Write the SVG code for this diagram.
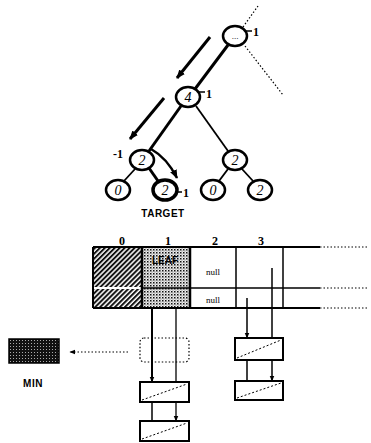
<svg xmlns="http://www.w3.org/2000/svg" width="371" height="443" viewBox="0 0 371 443">
<style>
.nd{fill:#fff;stroke:#000;stroke-width:2.5}
.ndt{fill:#fff;stroke:#000;stroke-width:3.5}
.nl{font-family:"Liberation Serif",serif;font-style:italic;font-size:14px;text-anchor:middle}
.bl{font-family:"Liberation Serif",serif;font-weight:bold;font-size:12px}
.e{stroke:#000;fill:none}
.lbl{font-family:"Liberation Sans",sans-serif;font-weight:bold;font-size:10px;text-anchor:middle;letter-spacing:0.5px}
.null{font-family:"Liberation Serif",serif;font-size:9px;text-anchor:middle}
.box{fill:#fff;stroke:#000;stroke-width:2}
.dg{stroke:#000;stroke-width:1;stroke-dasharray:2 2}
.dot{stroke:#000;stroke-width:1.2;stroke-dasharray:1.5 2;fill:none}
</style>
<defs>
<marker id="ah" viewBox="0 0 10 10" refX="9" refY="5" markerWidth="9" markerHeight="9" orient="auto" markerUnits="userSpaceOnUse"><path d="M0,1 L10,5 L0,9 Z" fill="#000"/></marker>
<marker id="ahs" viewBox="0 0 10 10" refX="9" refY="5" markerWidth="6" markerHeight="6" orient="auto" markerUnits="userSpaceOnUse"><path d="M0,1 L10,5 L0,9 Z" fill="#000"/></marker>
<pattern id="hatch" patternUnits="userSpaceOnUse" width="3.5" height="3.5" patternTransform="rotate(45)"><rect width="3.5" height="3.5" fill="#fff"/><line x1="1" y1="0" x2="1" y2="3.5" stroke="#111" stroke-width="2"/></pattern>
<pattern id="stip" patternUnits="userSpaceOnUse" width="3" height="3"><rect width="3" height="3" fill="#eee"/><rect x="0" y="0" width="1.5" height="1.5" fill="#111"/><rect x="1.5" y="1.5" width="1" height="1" fill="#666"/></pattern>
<pattern id="dstip" patternUnits="userSpaceOnUse" width="3" height="3"><rect width="3" height="3" fill="#111"/><rect x="1" y="1" width="1" height="1" fill="#aaa"/></pattern>
</defs>

<g id="connectors">
<line class="e" x1="228" y1="45" x2="195" y2="89" stroke-width="3"/>
<line class="e" x1="181" y1="106" x2="149" y2="151" stroke-width="3"/>
<line class="e" x1="196" y1="106" x2="228" y2="151" stroke-width="1.8"/>
<line class="e" x1="135" y1="169" x2="124" y2="181" stroke-width="1.8"/>
<line class="e" x1="149" y1="168" x2="158" y2="181" stroke-width="3"/>
<line class="e" x1="228" y1="169" x2="219" y2="181" stroke-width="1.8"/>
<line class="e" x1="242" y1="169" x2="253" y2="181" stroke-width="1.8"/>
<line class="dot" x1="243" y1="27" x2="258" y2="6"/>
<line class="dot" x1="245" y1="46" x2="283" y2="95"/>
<line class="e" x1="210" y1="37" x2="177" y2="78" stroke-width="3" marker-end="url(#ah)"/>
<line class="e" x1="164" y1="98" x2="130" y2="139" stroke-width="3" marker-end="url(#ah)"/>
<path class="e" d="M151,149 Q167,158 177,178" stroke-width="2.5" marker-end="url(#ah)"/>
<line class="e" x1="152" y1="300" x2="152" y2="382" stroke-width="2" marker-end="url(#ahs)"/>
<line class="e" x1="176" y1="280" x2="176" y2="421" stroke-width="1.3" marker-end="url(#ahs)"/>
<line class="e" x1="152" y1="402" x2="152" y2="433" stroke-width="1.5" marker-end="url(#ahs)"/>
<line class="e" x1="247" y1="298" x2="247" y2="338" stroke-width="1.5" marker-end="url(#ahs)"/>
<line class="e" x1="272" y1="268" x2="272" y2="381" stroke-width="1.5" marker-end="url(#ahs)"/>
<line class="e" x1="247" y1="360" x2="247" y2="394" stroke-width="1.5" marker-end="url(#ahs)"/>
<line class="dot" x1="128" y1="352" x2="70" y2="352" marker-end="url(#ahs)"/>
</g>

<g id="node-root"><ellipse class="nd" cx="235" cy="36" rx="12" ry="10"/><text x="235" y="39" font-family="Liberation Serif,serif" font-size="9" text-anchor="middle">...</text><line x1="246" y1="31" x2="252" y2="31" stroke="#000" stroke-width="1.5"/><text class="bl" x="253" y="36">1</text></g>
<g id="node-4"><ellipse class="nd" cx="188" cy="97" rx="12" ry="10"/><text class="nl" x="188" y="102">4</text><line x1="199" y1="92" x2="205" y2="92" stroke="#000" stroke-width="1.5"/><text class="bl" x="206" y="98">1</text></g>
<g id="node-2l"><ellipse class="nd" cx="142" cy="160" rx="12" ry="10"/><text class="nl" x="142" y="165">2</text><text class="bl" x="123" y="158" text-anchor="end">-1</text></g>
<g id="node-2r"><ellipse class="nd" cx="235" cy="160" rx="12" ry="10"/><text class="nl" x="235" y="165">2</text></g>
<g id="leaf-0a"><ellipse class="nd" cx="118" cy="190" rx="12" ry="10"/><text class="nl" x="118" y="195">0</text></g>
<g id="leaf-2a"><ellipse class="ndt" cx="165" cy="190" rx="12" ry="10"/><text class="nl" x="165" y="195">2</text><line x1="177" y1="192" x2="182" y2="192" stroke="#000" stroke-width="1.5"/><text class="bl" x="183" y="197">1</text></g>
<g id="leaf-0b"><ellipse class="nd" cx="213" cy="190" rx="12" ry="10"/><text class="nl" x="213" y="195">0</text></g>
<g id="leaf-2b"><ellipse class="nd" cx="260" cy="190" rx="12" ry="10"/><text class="nl" x="260" y="195">2</text></g>
<text class="lbl" x="163" y="217">TARGET</text>

<g id="table">
<rect x="93" y="247" width="49" height="61" fill="url(#hatch)"/>
<line x1="93" y1="288" x2="142" y2="288" stroke="#fff" stroke-width="2"/>
<rect x="142" y="247" width="48" height="61" fill="url(#stip)"/>
<text x="165" y="264" font-family="Liberation Sans,sans-serif" font-weight="bold" font-size="10" text-anchor="middle">LEAF</text>
<line x1="93" y1="247" x2="320" y2="247" stroke="#000" stroke-width="2"/>
<line x1="142" y1="288" x2="320" y2="288" stroke="#000" stroke-width="1.5"/>
<line x1="93" y1="308" x2="320" y2="308" stroke="#000" stroke-width="2"/>
<line class="dot" x1="320" y1="247" x2="368" y2="247"/>
<line class="dot" x1="320" y1="288" x2="368" y2="288"/>
<line class="dot" x1="320" y1="308" x2="368" y2="308"/>
<line x1="93" y1="247" x2="93" y2="308" stroke="#000" stroke-width="2"/>
<line x1="142" y1="247" x2="142" y2="308" stroke="#000" stroke-width="2.5"/>
<line x1="190" y1="247" x2="190" y2="308" stroke="#000" stroke-width="2.5"/>
<line x1="236" y1="247" x2="236" y2="308" stroke="#000" stroke-width="1.5"/>
<line x1="283" y1="247" x2="283" y2="308" stroke="#000" stroke-width="1.5"/>
<text class="null" x="213" y="275">null</text>
<text class="null" x="213" y="303">null</text>
<text class="bl" x="122" y="245" text-anchor="middle" font-size="10">0</text>
<text class="bl" x="168" y="245" text-anchor="middle" font-size="10">1</text>
<text class="bl" x="215" y="245" text-anchor="middle" font-size="10">2</text>
<text class="bl" x="261" y="245" text-anchor="middle" font-size="10">3</text>
</g>

<g id="ghost"><rect x="140" y="338" width="49" height="24" rx="4" class="dot"/></g>
<g id="box1"><rect class="box" x="140" y="382" width="49" height="20"/><line class="dg" x1="142" y1="400" x2="187" y2="384"/></g>
<g id="box2"><rect class="box" x="140" y="421" width="49" height="20"/><line class="dg" x1="142" y1="439" x2="187" y2="423"/></g>
<g id="box3"><rect class="box" x="235" y="338" width="48" height="22"/><line class="dg" x1="237" y1="358" x2="281" y2="340"/></g>
<g id="box4"><rect class="box" x="235" y="381" width="48" height="19"/><line class="dg" x1="237" y1="398" x2="281" y2="383"/></g>
<g id="min"><rect x="9" y="339" width="50" height="24" fill="url(#dstip)" stroke="#000" stroke-width="1.5"/><text class="lbl" x="33" y="387">MIN</text></g>
</svg>
